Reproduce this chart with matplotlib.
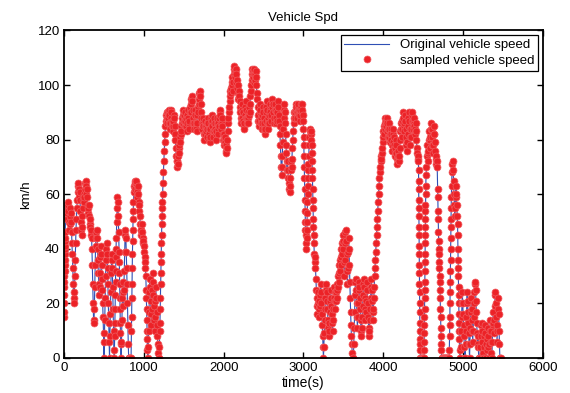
import numpy as np
import matplotlib
matplotlib.use("Agg")
import matplotlib.pyplot as plt

# speed (km/h) on a 5 s grid, 0 .. 5470 s (one row = 100 s)
grid_step = 5
speed = [
    15, 28, 38, 46, 52, 56, 54, 51, 53, 56, 57, 54, 50, 47, 49, 52, 55, 53, 50, 46,           # 0
    42, 38, 33, 27, 22, 20, 24, 30, 36, 42, 47, 51, 55, 58, 61, 63, 64, 62, 59, 61,           # 100
    58, 54, 50, 47, 45, 48, 52, 55, 58, 60, 57, 59, 62, 64, 65, 63, 60, 62, 59, 56,           # 200
    53, 55, 56, 52, 49, 51, 48, 45, 47, 44, 40, 34, 27, 20, 14, 13, 18, 26, 34, 41,           # 300
    44, 46, 47, 44, 40, 36, 31, 27, 23, 26, 31, 37, 41, 38, 34, 29, 25, 20, 15, 9,            # 400
    0, 6, 14, 22, 30, 36, 40, 42, 38, 33, 27, 20, 13, 6, 0, 8, 16, 24, 31, 36,                # 500
    38, 33, 26, 18, 10, 3, 0, 8, 18, 28, 37, 44, 50, 55, 59, 57, 52, 46, 39, 31,              # 600
    22, 13, 5, 0, 6, 14, 22, 28, 24, 19, 25, 32, 39, 45, 47, 44, 39, 33, 27, 20,              # 700
    12, 5, 0, 0, 0, 0, 0, 0, 0, 10, 22, 33, 43, 51, 57, 61, 63, 65, 64, 62,                   # 800
    64, 65, 62, 59, 61, 63, 60, 57, 54, 56, 52, 49, 47, 45, 47, 49, 46, 44, 42, 43,           # 900
    41, 39, 37, 35, 33, 30, 25, 18, 10, 3, 0, 4, 10, 17, 24, 29, 26, 21, 16, 12,              # 1000
    18, 25, 31, 28, 23, 19, 14, 10, 15, 21, 26, 22, 17, 12, 8, 5, 2, 0, 0, 4,                 # 1100
    10, 18, 27, 35, 42, 49, 55, 60, 64, 68, 72, 76, 79, 82, 85, 87, 89, 90, 88, 86,           # 1200
    88, 90, 91, 89, 86, 84, 86, 88, 91, 90, 87, 85, 83, 85, 87, 89, 88, 85, 82, 80,           # 1300
    77, 74, 72, 70, 72, 71, 74, 77, 75, 78, 81, 79, 82, 85, 83, 86, 88, 86, 89, 91,           # 1400
    89, 87, 85, 87, 90, 88, 85, 83, 86, 89, 91, 88, 86, 84, 87, 90, 92, 90, 93, 95,           # 1500
    96, 94, 91, 88, 86, 84, 86, 89, 91, 89, 86, 84, 83, 86, 89, 92, 90, 93, 95, 97,           # 1600
    98, 96, 93, 90, 88, 86, 84, 86, 88, 85, 82, 80, 82, 85, 87, 85, 83, 81, 84, 86,           # 1700
    88, 86, 84, 82, 80, 79, 81, 84, 86, 88, 89, 87, 85, 83, 81, 83, 86, 88, 86, 84,           # 1800
    82, 80, 83, 86, 88, 86, 84, 82, 85, 88, 90, 91, 89, 86, 84, 86, 88, 85, 82, 80,           # 1900
    82, 80, 78, 79, 81, 78, 76, 75, 77, 80, 83, 86, 88, 90, 92, 94, 96, 98, 97, 99,           # 2000
    101, 103, 100, 98, 101, 104, 106, 107, 105, 103, 106, 104, 101, 99, 102, 100, 97, 95, 98, 96,  # 2100
    94, 92, 90, 88, 86, 88, 91, 93, 90, 87, 85, 84, 86, 89, 92, 94, 91, 88, 86, 88,           # 2200
    90, 88, 86, 89, 92, 90, 93, 96, 98, 100, 102, 104, 106, 105, 103, 101, 104, 106, 104, 102,  # 2300
    105, 103, 100, 97, 95, 92, 89, 87, 85, 87, 90, 93, 91, 88, 86, 84, 86, 89, 92, 90,        # 2400
    88, 86, 84, 82, 84, 87, 90, 92, 94, 91, 88, 86, 84, 86, 89, 91, 93, 90, 87, 89,           # 2500
    92, 94, 95, 93, 90, 88, 86, 88, 91, 93, 91, 88, 86, 87, 90, 92, 94, 92, 89, 87,           # 2600
    85, 82, 78, 74, 70, 67, 70, 74, 79, 84, 88, 91, 93, 90, 86, 82, 78, 75, 72, 69,           # 2700
    72, 69, 66, 64, 62, 61, 63, 66, 69, 72, 70, 73, 77, 80, 83, 86, 88, 90, 88, 90,           # 2800
    91, 93, 92, 90, 88, 90, 92, 93, 91, 89, 87, 89, 91, 93, 92, 90, 93, 91, 89, 87,           # 2900
    84, 78, 70, 62, 54, 47, 42, 40, 44, 50, 57, 63, 69, 74, 78, 81, 83, 84, 82, 83,           # 3000
    80, 75, 69, 62, 55, 48, 42, 38, 35, 37, 33, 29, 25, 22, 19, 16, 20, 24, 21, 18,           # 3100
    15, 19, 23, 27, 24, 20, 16, 12, 8, 4, 0, 4, 9, 14, 18, 22, 25, 27, 24, 21,                # 3200
    18, 14, 11, 8, 10, 13, 17, 21, 25, 22, 19, 16, 13, 10, 14, 18, 22, 26, 24, 21,            # 3300
    18, 21, 24, 27, 25, 22, 26, 30, 34, 31, 28, 32, 36, 40, 37, 34, 38, 42, 45, 43,           # 3400
    40, 35, 30, 36, 42, 46, 47, 43, 38, 32, 27, 33, 39, 44, 40, 34, 28, 22, 17, 12,           # 3500
    8, 5, 2, 0, 0, 0, 5, 11, 17, 23, 28, 29, 25, 20, 15, 11, 15, 20, 25, 28,                  # 3600
    26, 22, 18, 14, 10, 8, 11, 15, 19, 23, 27, 29, 26, 22, 18, 14, 17, 21, 25, 28,            # 3700
    25, 20, 15, 11, 8, 10, 14, 18, 22, 26, 29, 25, 21, 17, 14, 18, 22, 26, 30, 33,            # 3800
    36, 39, 42, 45, 48, 51, 54, 57, 60, 63, 66, 68, 70, 72, 74, 73, 75, 77, 79, 81,           # 3900
    83, 85, 82, 84, 86, 88, 87, 85, 88, 86, 83, 81, 84, 86, 84, 81, 79, 82, 84, 82,           # 4000
    80, 78, 76, 79, 82, 84, 81, 78, 76, 74, 77, 80, 78, 75, 73, 71, 73, 76, 74, 72,           # 4100
    74, 77, 80, 83, 86, 84, 81, 84, 87, 90, 88, 85, 83, 86, 89, 87, 84, 81, 78, 76,           # 4200
    79, 82, 85, 88, 90, 87, 84, 81, 78, 81, 84, 87, 89, 90, 87, 84, 86, 88, 85, 82,           # 4300
    84, 86, 83, 80, 77, 75, 73, 74, 72, 55, 38, 20, 5, 0, 0, 0, 0, 0, 0, 0,                   # 4400
    0, 0, 0, 15, 32, 48, 60, 67, 70, 74, 78, 75, 72, 76, 80, 83, 80, 77, 81, 84,              # 4500
    86, 84, 81, 78, 75, 78, 82, 85, 82, 79, 76, 73, 71, 74, 72, 70, 62, 54, 46, 40,           # 4600
    35, 30, 25, 18, 11, 5, 0, 0, 0, 0, 0, 0, 0, 0, 0, 0, 0, 0, 0, 0,                          # 4700
    0, 0, 0, 0, 0, 0, 8, 20, 32, 44, 55, 63, 68, 71, 72, 69, 65, 60, 56, 52,                  # 4800
    55, 59, 63, 60, 56, 52, 49, 40, 30, 20, 10, 3, 0, 0, 4, 10, 15, 20, 24, 20,               # 4900
    16, 12, 8, 4, 0, 0, 5, 10, 15, 20, 24, 21, 17, 13, 9, 5, 0, 5, 11, 17,                    # 5000
    22, 18, 14, 10, 6, 10, 15, 20, 24, 27, 28, 25, 21, 17, 13, 9, 5, 8, 4, 0,                 # 5100
    0, 0, 0, 4, 8, 12, 13, 10, 6, 2, 0, 0, 4, 8, 12, 9, 5, 0, 0, 3,                           # 5200
    7, 11, 8, 4, 0, 0, 5, 10, 14, 10, 6, 2, 0, 6, 12, 17, 13, 9, 14, 19,                      # 5300
    23, 24, 20, 15, 10, 6, 12, 18, 22, 16, 10, 5, 0, 0, 0,                                    # 5400
]

# extra 1 s samples on the steep accelerations / stops (dotted columns)
ramp_t = [1, 2, 3, 4, 6, 7, 8, 9, 11, 12, 13, 14,
          637, 642, 647, 652, 692, 697, 702, 707,
          847, 852, 857, 862, 867,
          1032, 1037, 1042,
          1202, 1207, 1212, 1217, 1222, 1227, 1232,
          3002, 3007, 3012, 3017, 3022, 3027, 3042, 3047, 3052, 3057, 3062,
          3102, 3107, 3112, 3117, 3122, 3127,
          4441, 4442, 4443, 4444, 4446, 4447, 4448, 4449, 4451, 4452, 4453, 4454,
          4456, 4457, 4458, 4459, 4461,
          4511, 4512, 4513, 4514, 4516, 4517, 4518, 4519, 4521, 4522, 4523, 4524,
          4526, 4527, 4528, 4532,
          4682, 4687, 4692, 4697, 4702, 4707, 4712, 4717, 4722, 4727,
          4827, 4832, 4833, 4837, 4838, 4842, 4843, 4847, 4848, 4852,
          4932, 4937, 4938, 4942, 4943, 4947, 4948, 4952]
ramp_v = [17, 20, 23, 26, 30, 32, 34, 36, 40, 41, 43, 44,
          13, 23, 32, 40, 35, 27, 18, 9,
          15, 27, 38, 47, 54,
          22, 14, 7,
          13, 22, 31, 38, 45, 52, 57,
          81, 74, 66, 58, 50, 45, 47, 53, 60, 66, 71,
          78, 72, 66, 58, 51, 45,
          69, 65, 62, 58, 52, 48, 45, 41, 34, 31, 27, 24,
          17, 13, 10, 7, 3,
          3, 6, 9, 12, 18, 22, 25, 28, 35, 38, 42, 45,
          51, 54, 56, 63,
          59, 51, 43, 38, 33, 28, 22, 15, 8, 3,
          3, 12, 15, 24, 28, 36, 40, 48, 51, 59,
          45, 36, 33, 26, 23, 16, 13, 7]

t = np.concatenate([np.arange(len(speed)) * grid_step, ramp_t])
v = np.concatenate([speed, ramp_v])
order = np.argsort(t, kind="stable")
t, v = t[order], v[order]

plt.rcParams['font.family'] = ['Liberation Sans', 'DejaVu Sans']
fig = plt.figure(figsize=(5.70, 3.93), dpi=100)
ax = fig.add_axes([0.1123, 0.0891, 0.8403, 0.8333])

ax.plot(t, v, '-', color='#2f4fb5', lw=0.8, label='Original vehicle speed')
ax.plot(t, v, 'o', color='#ec2227', markersize=5.0, markeredgewidth=0.5,
        markeredgecolor='#f05a5e', label='sampled vehicle speed')

ax.set_xlim(0, 6000)
ax.set_ylim(0, 120)
ax.set_xticks(np.arange(0, 6001, 1000))
ax.set_yticks(np.arange(0, 121, 20))
ax.tick_params(direction='in', top=True, right=True, length=4, width=1,
               labelsize=9.5, pad=3)
for s in ax.spines.values():
    s.set_linewidth(1.3)

ax.set_title('Vehicle Spd', fontsize=9.5, pad=7)
ax.set_xlabel('time(s)', fontsize=10, labelpad=1)
ax.set_ylabel('km/h', fontsize=9.5, labelpad=4)

leg = ax.legend(loc='upper right', numpoints=1, fontsize=9.5, fancybox=False,
                framealpha=1, edgecolor='black', handlelength=3.4,
                borderaxespad=0.35, borderpad=0.3, labelspacing=0.25)
leg.get_frame().set_linewidth(0.9)

fig.savefig('out.png', dpi=100)
